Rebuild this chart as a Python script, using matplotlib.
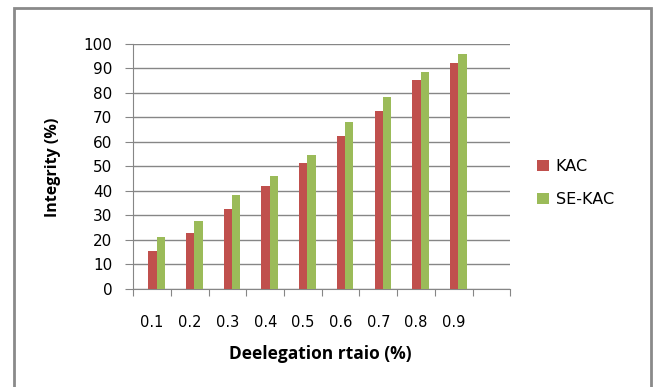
import matplotlib
matplotlib.use('Agg')
import matplotlib.pyplot as plt
import numpy as np
from matplotlib.patches import Rectangle

# Data
ratios = ['0.1', '0.2', '0.3', '0.4', '0.5', '0.6', '0.7', '0.8', '0.9']
kac = [15.5, 22.9, 32.5, 42.0, 51.5, 62.5, 72.6, 85.2, 92.2]
se_kac = [21.3, 27.7, 38.3, 46.1, 54.7, 68.3, 78.3, 88.5, 95.9]
n_slots = 10  # the category axis has one empty slot at the end

grey = '#868686'
fig = plt.figure(figsize=(6.57, 3.87), dpi=100)
ax = fig.add_axes([0.2029, 0.254, 0.5738, 0.6323])

x = np.arange(len(ratios))
w = 0.22
ax.bar(x + 0.51, kac, width=w, color='#C0504D', label='KAC', zorder=3)
ax.bar(x + 0.73, se_kac, width=w, color='#9BBB59', label='SE-KAC', zorder=3)

ax.set_xlim(0, n_slots)
ax.set_ylim(0, 100)
ax.set_yticks(np.arange(0, 101, 10))
ax.yaxis.grid(True, color=grey, linewidth=1, zorder=0)

ax.set_xticks(np.arange(0, n_slots + 1))
ax.set_xticklabels([])
ax.set_xticks(x + 0.5, minor=True)
ax.set_xticklabels(ratios, minor=True)
ax.tick_params(axis='x', which='major', direction='out', length=5, color=grey)
ax.tick_params(axis='x', which='minor', length=0, pad=19, labelsize=10.5)
ax.tick_params(axis='y', direction='out', length=6, color=grey, pad=9, labelsize=11)

for s in ['top', 'right']:
    ax.spines[s].set_visible(False)
for s in ['left', 'bottom']:
    ax.spines[s].set_color(grey)

fig.text(53/657, 1 - 167/387, 'Integrity (%)', rotation=90, ha='center', va='center',
         fontsize=11.5, fontweight='bold', family='Open Sans')
fig.text(320/657, 1 - 354/387, 'Deelegation rtaio (%)', ha='center', va='center',
         fontsize=12.5, fontweight='bold', family='Open Sans')

ax.legend(loc='center left', bbox_to_anchor=(523/657, 1 - 183/387),
          bbox_transform=fig.transFigure, frameon=False, fontsize=11.5,
          handlelength=0.7, handleheight=0.7, handletextpad=0.45, labelspacing=1.15)

# outer chart frame
fig.patches.append(Rectangle((14/657, -0.05), (651 - 14)/657, 1.05 - 8/387,
                             transform=fig.transFigure, fill=False,
                             edgecolor='#8a8a8a', linewidth=2))

fig.savefig('out.png', dpi=100)
